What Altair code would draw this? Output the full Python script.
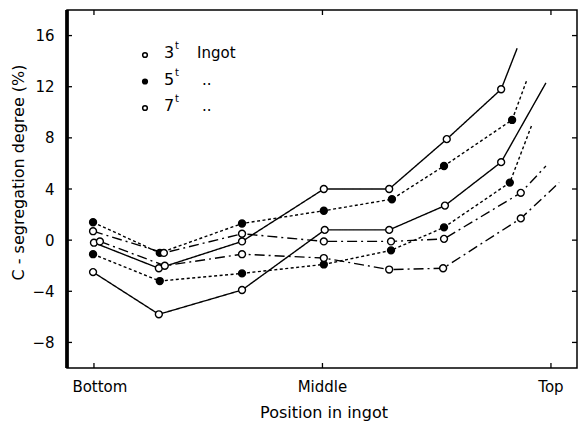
import altair as alt
import pandas as pd

# ---- data (x: Bottom=0, Middle=50, Top=100) ----
s3a_x = [0.0, 14.2, 32.4, 50.3, 64.6, 77.2, 89.1, 92.6]
s3a_y = [-0.2, -2.2, -0.1, 4.0, 4.0, 7.9, 11.8, 15.0]
s3b_x = [-0.2, 14.2, 32.4, 50.5, 64.6, 76.8, 89.1, 98.9]
s3b_y = [-2.5, -5.8, -3.9, 0.8, 0.8, 2.7, 6.1, 12.3]
s5a_x = [-0.2, 14.4, 32.4, 50.3, 65.2, 76.6, 91.5, 94.7]
s5a_y = [1.4, -1.0, 1.3, 2.3, 3.2, 5.8, 9.4, 12.5]
s5b_x = [-0.2, 14.4, 32.4, 50.3, 65.0, 76.6, 91.0, 95.8]
s5b_y = [-1.1, -3.2, -2.6, -1.9, -0.8, 1.0, 4.5, 9.0]
s7a_x = [-0.2, 15.3, 32.4, 50.3, 65.0, 76.6, 93.4, 98.9]
s7a_y = [0.7, -1.0, 0.5, -0.1, -0.1, 0.1, 3.7, 5.8]
s7b_x = [1.3, 15.5, 32.4, 50.3, 64.6, 76.4, 93.4, 101.8]
s7b_y = [-0.1, -2.0, -1.1, -1.4, -2.3, -2.2, 1.7, 4.5]

ingots = ["3t", "5t", "7t"]
legend_nums = ["3", "5", "7"]
legend_words = ["Ingot", "..", ".."]
y_ticks = [-8, -4, 0, 4, 8, 12, 16]
x_ticks = [0, 50, 100]
x_label_names = ["Bottom", "Middle", "Top"]
x_label_pos = [1.3, 50, 100]

series = [
    ("3a", "3t", s3a_x, s3a_y),
    ("3b", "3t", s3b_x, s3b_y),
    ("5a", "5t", s5a_x, s5a_y),
    ("5b", "5t", s5b_x, s5b_y),
    ("7a", "7t", s7a_x, s7a_y),
    ("7b", "7t", s7b_x, s7b_y),
]
rows = []
for name, ing, xs, ys in series:
    for i, (xv, yv) in enumerate(zip(xs, ys)):
        rows.append({"series": name, "ingot": ing, "idx": i, "x": xv, "y": yv,
                     "marked": i < len(xs) - 1})
df = pd.DataFrame(rows)

FONT = "DejaVu Sans"
W, H = 510, 358
xs = alt.Scale(domain=[-5.9, 105.7], nice=False, zero=False)
ys = alt.Scale(domain=[-10, 18], nice=False, zero=False)

dash_scale = alt.Scale(domain=ingots, range=[[1, 0], [3, 2.5], [10, 4, 2, 4]])
fill_scale = alt.Scale(domain=ingots, range=["white", "black", "white"])

base = alt.Chart(df)
lines = base.mark_line(color="black", strokeWidth=1.4).encode(
    x=alt.X("x:Q", scale=xs, axis=None),
    y=alt.Y("y:Q", scale=ys,
            axis=alt.Axis(values=y_ticks, ticks=False, domain=False, grid=False,
                          labelFont=FONT, labelFontSize=15, labelColor="black",
                          labelPadding=13, title="C - segregation degree (%)",
                          titleFont=FONT, titleFontSize=16, titleFontWeight="normal",
                          titleColor="black", titleX=-49, titleY=162,
                          titleAngle=270, titleAlign="center", titleBaseline="middle")),
    detail="series:N",
    order="idx:Q",
    strokeDash=alt.StrokeDash("ingot:N", scale=dash_scale, legend=None),
)
points = base.transform_filter("datum.marked").mark_point(
    shape="circle", filled=True, size=48, stroke="black", strokeWidth=1.4, opacity=1
).encode(
    x=alt.X("x:Q", scale=xs),
    y=alt.Y("y:Q", scale=ys),
    fill=alt.Fill("ingot:N", scale=fill_scale, legend=None),
)

ytdf = pd.DataFrame({"v": y_ticks})
xtdf = pd.DataFrame({"v": x_ticks})
ytick_l = alt.Chart(ytdf).mark_rule(color="black", strokeWidth=1.3).encode(
    y=alt.Y("v:Q", scale=ys), x=alt.value(0), x2=alt.value(5))
ytick_r = alt.Chart(ytdf).mark_rule(color="black", strokeWidth=1.3).encode(
    y=alt.Y("v:Q", scale=ys), x=alt.value(W - 5), x2=alt.value(W))
xtick_b = alt.Chart(xtdf).mark_rule(color="black", strokeWidth=1.3).encode(
    x=alt.X("v:Q", scale=xs), y=alt.value(H - 5), y2=alt.value(H))
xtick_t = alt.Chart(xtdf).mark_rule(color="black", strokeWidth=1.3).encode(
    x=alt.X("v:Q", scale=xs), y=alt.value(0), y2=alt.value(5))
left_line = alt.Chart(ytdf).mark_rule(color="black", strokeWidth=2.5).encode(
    x=alt.value(0), y=alt.value(0), y2=alt.value(H))

xl = alt.Chart(pd.DataFrame({"name": x_label_names, "pos": x_label_pos})).mark_text(
    font=FONT, fontSize=15, color="black", baseline="middle", align="center"
).encode(x=alt.X("pos:Q", scale=xs), y=alt.value(H + 19), text="name:N")
xtitle = alt.Chart(pd.DataFrame({"t": ["Position in ingot"]})).mark_text(
    font=FONT, fontSize=16, color="black", baseline="middle", align="center"
).encode(x=alt.value(257), y=alt.value(H + 45), text="t:N")

ldf = pd.DataFrame({"num": legend_nums, "word": legend_words, "ingot": ingots})
lbase = alt.Chart(ldf).transform_window(row="row_number()").transform_calculate(
    py="45 + (datum.row - 1) * 26.5",
    wx="datum.row == 1 ? 130 : 135",
)
lmark = lbase.mark_point(shape="circle", filled=True, size=22, stroke="black",
                         strokeWidth=1.5, opacity=1).encode(
    x=alt.value(78), y=alt.Y("py:Q", scale=None),
    fill=alt.Fill("ingot:N", scale=fill_scale, legend=None))
lnum = lbase.mark_text(font=FONT, fontSize=16, color="black", align="left",
                       baseline="middle", dy=-2).encode(
    x=alt.value(97), y=alt.Y("py:Q", scale=None), text="num:N")
lsup = lbase.mark_text(font=FONT, fontSize=10, color="black", align="left",
                       baseline="middle", dy=-9, text="t").encode(
    x=alt.value(108), y=alt.Y("py:Q", scale=None))
lword = lbase.mark_text(font=FONT, fontSize=15, color="black", align="left",
                        baseline="middle", dy=-2).encode(
    x=alt.X("wx:Q", scale=None), y=alt.Y("py:Q", scale=None), text="word:N")

chart = alt.layer(
    lines, points, ytick_l, ytick_r, xtick_b, xtick_t, left_line,
    xl, xtitle, lmark, lnum, lsup, lword
).properties(
    width=W, height=H,
    autosize=alt.AutoSizeParams(type="none"),
    padding={"left": 67, "top": 10, "right": 2, "bottom": 58},
    background="white",
).configure_view(stroke="black", strokeWidth=1.5)

chart.save("out.html", embed_options={"renderer": "svg", "actions": False})
